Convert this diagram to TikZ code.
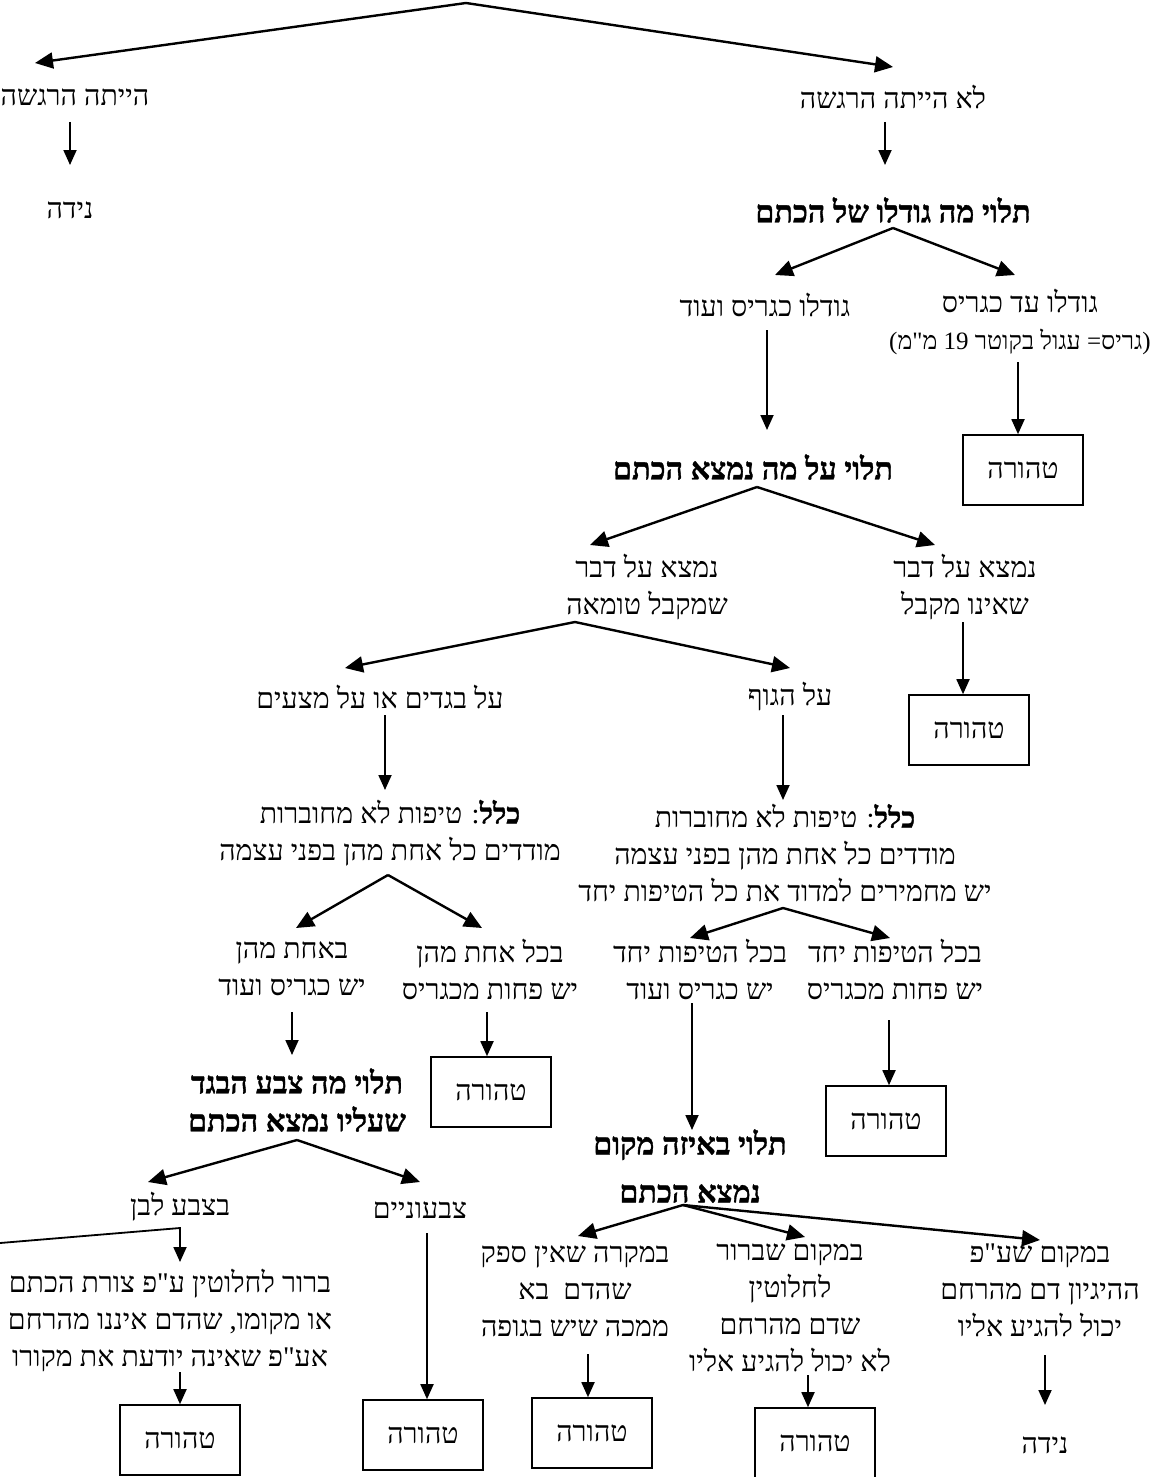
\documentclass[tikz,border=0pt]{standalone}
\usepackage{fontspec}
\setmainfont{Liberation Serif}
\newfontfamily\hebfont[Script=Hebrew, BoldFeatures={FakeBold=1.2}]{Liberation Serif}
\TeXXeTstate=1
\usetikzlibrary{arrows.meta, positioning}

\newcommand{\heb}[1]{\beginR #1\endR}

\begin{document}
\begin{tikzpicture}[
        x=1pt, y=-1pt,
        txt/.style={font={\hebfont\fontsize{28.5}{37}\selectfont}, align=center, inner sep=2pt},
        hdr/.style={txt, font={\hebfont\fontsize{30.5}{38}\selectfont\bfseries}},
        result/.style={txt, draw, line width=1.6pt, minimum width=120pt, minimum height=70pt},
        line/.style={-{Triangle[length=15pt,width=13pt]}, line width=1.8pt},
        split/.style={-{Triangle[length=18pt,width=16pt]}, line width=2.4pt}
    ]
    \useasboundingbox (0,0) rectangle (1165,1477);

    % Top: was there a sensation
    \coordinate (top) at (466,3);
    \node[txt] (hadRg) at (75,97) {\heb{הייתה הרגשה}};
    \node[txt] (noRg) at (893,97) {\heb{לא הייתה הרגשה}};
    \node[txt] (nida1) at (70,210) {\heb{נידה}};
    \node[hdr] (sizeQ) at (893,210) {\heb{תלוי מה גודלו של הכתם}};

    \draw[split] (top) -- ([shift={(-40,-34)}]hadRg.center);
    \draw[split] (top) -- ([shift={(0,-30)}]noRg.center);
    \draw[line] ([shift={(-5,25)}]hadRg.center) -- ([shift={(0,-45)}]nida1.center);
    \draw[line] ([shift={(-8,25)}]noRg.center) -- ([shift={(-8,-45)}]sizeQ.center);

    % Size of the stain
    \node[txt] (bigSz) at (765,305) {\heb{גודלו כגריס ועוד}};
    \node[txt] (smallSz) at (1020,322) {\heb{גודלו עד כגריס}\\
        {\fontsize{25}{37}\selectfont )\beginR גריס= עגול בקוטר \beginL 19\endL{} מ"מ\endR(}};
    \node[result] (pure1) at (1023,470) {\heb{טהורה}};
    \node[hdr] (whereQ) at (753,467) {\heb{תלוי על מה נמצא הכתם}};

    \coordinate (sizeSp) at ([shift={(0,18)}]sizeQ.center);
    \draw[split] (sizeSp) -- ([shift={(10,-30)}]bigSz.center);
    \draw[split] (sizeSp) -- ([shift={(-5,-47)}]smallSz.center);
    \draw[line] ([shift={(-2,40)}]smallSz.center) -- ([xshift=-5pt]pure1.north);
    \draw[line] ([shift={(2,25)}]bigSz.center) -- ([shift={(14,-37)}]whereQ.center);

    % What the stain was found on
    \node[txt] (impure) at (647,587) {\heb{נמצא על דבר}\\\heb{שמקבל טומאה}};
    \node[txt] (nonImp) at (965,587) {\heb{נמצא על דבר}\\\heb{שאינו מקבל}};
    \node[result] (pure2) at (969,730) {\heb{טהורה}};

    \coordinate (whereSp) at ([shift={(4,20)}]whereQ.center);
    \draw[split] (whereSp) -- ([shift={(-57,-42)}]impure.center);
    \draw[split] (whereSp) -- ([shift={(-30,-42)}]nonImp.center);
    \draw[line] ([shift={(-2,35)}]nonImp.center) -- ([xshift=-6pt]pure2.north);

    % Garments or body
    \node[txt] (clothes) at (380,697) {\heb{על בגדים או על מצעים}};
    \node[txt] (body) at (790,697) {\heb{על הגוף}};
    \node[txt] (ruleL) at (390,833) {\heb{\textbf{כלל}: טיפות לא מחוברות}\\
        \heb{מודדים כל אחת מהן בפני עצמה}};
    \node[txt] (ruleR) at (785,853) {\heb{\textbf{כלל}: טיפות לא מחוברות}\\
        \heb{מודדים כל אחת מהן בפני עצמה}\\\heb{יש מחמירים למדוד את כל הטיפות יחד}};

    \coordinate (impSp) at ([shift={(-72,35)}]impure.center);
    \draw[split] (impSp) -- ([shift={(-35,-29)}]clothes.center);
    \draw[split] (impSp) -- ([shift={(0,-29)}]body.center);
    \draw[line] ([shift={(5,18)}]clothes.center) -- ([shift={(-5,-43)}]ruleL.center);
    \draw[line] ([shift={(-7,18)}]body.center) -- ([shift={(-2,-53)}]ruleR.center);

    % Drops: each one or all together
    \node[txt] (oneBig) at (292,969) {\heb{באחת מהן}\\\heb{יש כגריס ועוד}};
    \node[txt] (eachSm) at (490,969) {\heb{בכל אחת מהן}\\\heb{יש פחות מכגריס}};
    \node[txt] (allBig) at (700,969) {\heb{בכל הטיפות יחד}\\\heb{יש כגריס ועוד}};
    \node[txt] (allSm) at (895,969) {\heb{בכל הטיפות יחד}\\\heb{יש פחות מכגריס}};

    \coordinate (ruleLSp) at ([shift={(-2,42)}]ruleL.center);
    \coordinate (ruleRSp) at ([shift={(-2,55)}]ruleR.center);
    \draw[split] (ruleLSp) -- ([shift={(4,-41)}]oneBig.center);
    \draw[split] (ruleLSp) -- ([shift={(-8,-41)}]eachSm.center);
    \draw[split] (ruleRSp) -- ([shift={(-10,-31)}]allBig.center);
    \draw[split] (ruleRSp) -- ([shift={(-5,-31)}]allSm.center);

    \node[hdr] (colorQ) at (297,1100) {\heb{תלוי מה צבע הבגד}\\\heb{שעליו נמצא הכתם}};
    \node[result] (pure3) at (491,1092) {\heb{טהורה}};
    \node[hdr, align=center] (placeQ) at (690,1166) {\heb{תלוי באיזה מקום}\\[10pt]\heb{נמצא הכתם}};
    \node[result] (pure4) at (886,1121) {\heb{טהורה}};

    \draw[line] ([shift={(0,43)}]oneBig.center) -- ([shift={(-5,-45)}]colorQ.center);
    \draw[line] ([shift={(-3,43)}]eachSm.center) -- ([xshift=-4pt]pure3.north);
    \draw[line] ([shift={(-8,34)}]allBig.center) -- ([shift={(2,-36)}]placeQ.center);
    \draw[line] ([shift={(-6,51)}]allSm.center) -- ([xshift=3pt]pure4.north);

    % Colour of the garment
    \node[txt] (white) at (180,1207) {\heb{בצבע לבן}};
    \node[txt] (colored) at (420,1210) {\heb{צבעוניים}};
    \node[txt] (whiteTxt) at (170,1320) {\heb{ברור לחלוטין ע"פ צורת הכתם}\\
        \heb{או מקומו, שהדם איננו מהרחם}\\\heb{אע"פ שאינה יודעת את מקורו}};
    \node[result] (pure5) at (180,1440) {\heb{טהורה}};
    \node[result] (pure6) at (423,1435) {\heb{טהורה}};
    \coordinate (edge) at (0,1243);

    \coordinate (colorSp) at ([shift={(0,40)}]colorQ.center);
    \draw[split] (colorSp) -- ([shift={(-32,-25)}]white.center);
    \draw[split] (colorSp) -- ([shift={(0,-28)}]colored.center);
    \draw[line] (edge) -- ([yshift=-21pt]white.center) -- ([shift={(10,-58)}]whiteTxt.center);
    \draw[line] ([shift={(10,52)}]whiteTxt.center) -- (pure5.north);
    \draw[line] ([shift={(7,23)}]colored.center) -- ([xshift=4pt]pure6.north);

    % Where the stain was found
    \node[txt] (wound) at (575,1291) {\heb{במקרה שאין ספק}\\\heb{שהדם\ \ בא}\\\heb{ממכה שיש בגופה}};
    \node[txt] (certain) at (790,1308) {\heb{במקום שברור}\\\heb{לחלוטין}\\\heb{שדם מהרחם}\\
        \heb{לא יכול להגיע אליו}};
    \node[txt] (logic) at (1040,1290) {\heb{במקום שע"פ}\\\heb{ההיגיון דם מהרחם}\\\heb{יכול להגיע אליו}};
    \node[result] (pure7) at (592,1433) {\heb{טהורה}};
    \node[result] (pure8) at (815,1443) {\heb{טהורה}};
    \node[txt] (nida2) at (1045,1445) {\heb{נידה}};

    \coordinate (placeSp) at ([shift={(-7,39)}]placeQ.center);
    \draw[split] (placeSp) -- ([shift={(3,-55)}]wound.center);
    \draw[split] (placeSp) -- ([shift={(15,-71)}]certain.center);
    \draw[split] (placeSp) -- ([shift={(0,-50)}]logic.center);
    \draw[line] ([shift={(13,63)}]wound.center) -- ([xshift=-4pt]pure7.north);
    \draw[line] ([shift={(18,67)}]certain.center) -- ([xshift=-7pt]pure8.north);
    \draw[line] ([shift={(5,65)}]logic.center) -- ([shift={(0,-40)}]nida2.center);

    \end{tikzpicture}
\end{document}
